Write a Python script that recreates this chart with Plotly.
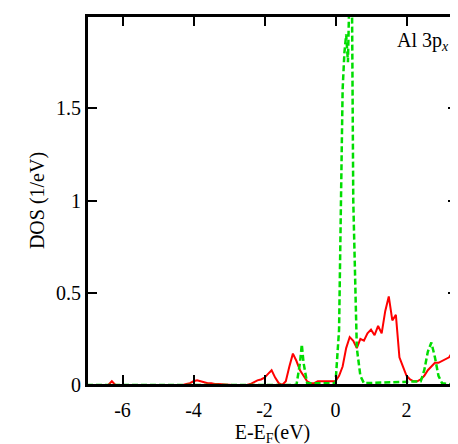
import numpy as np
import plotly.graph_objects as go

red_x = [round(v, 1) for v in np.arange(-7.0, 3.45, 0.1)]
red_y = ([0]*7 + [0.02, 0] + [0]*19 +
         [0.005,0.01,0.02,0.025,0.02,0.015,0.01,0.01,0.005,0.005,0.003] + [0]*7 +
         [0.005,0.015,0.025,0.03,0.04,0.06,0.08,0.04,0.01,0.0,0.02,0.1,0.17,0.13,0.08,0.05,0.02,0.01,0.01,
          0.02,0.02,0.02,0.02,0.02,0.02,0.05,0.1,0.2,0.26,0.24,0.2,0.25,0.24,0.28,0.3,0.27,0.32,0.28,0.4,0.48,
          0.35,0.38,0.15,0.1,0.05,0.03,0.02,0.02,0.03,0.05,0.08,0.1,0.12,0.12,0.13,0.14,0.15,0.18,0.2])
red_x = red_x[:len(red_y)]

green_x = [-7.0,-1.1,-1.0,-0.95,-0.9,-0.8,0.0,0.1,0.2,0.25,0.3,0.35,0.4,0.45,0.5,0.6,0.7,0.8,2.4,2.5,2.6,2.7,2.8,2.9,3.0,3.4]
green_y = [0,0,0.12,0.22,0.12,0.01,0.01,0.3,1.6,1.8,1.9,1.75,2.2,2.5,1.0,0.2,0.05,0.01,0.02,0.08,0.18,0.23,0.15,0.05,0.01,0]

fig = go.Figure()
fig.add_trace(go.Scatter(x=red_x, y=red_y, mode="lines", line=dict(color="#ff0000", width=2)))
fig.add_trace(go.Scatter(x=green_x, y=green_y, mode="lines", line=dict(color="#00dd00", width=2.5, dash="6px,3px")))
font = dict(family="Liberation Serif, DejaVu Serif", size=20, color="black")
ax = dict(showgrid=False, zeroline=False, showline=True, linecolor="black", linewidth=2, mirror="allticks",
          ticks="inside", ticklen=10, tickwidth=2, tickcolor="black", tickfont=font)
fig.update_xaxes(range=[-7.0, 3.45], tickvals=[-6,-4,-2,0,2], ticktext=["-6","-4","-2","0","2"],
                 ticklabelstandoff=6,
                 title=dict(text="E-E<sub>F</sub>(eV)", font=font, standoff=4), **ax)
fig.update_yaxes(range=[0, 2.0], tickvals=[0,0.5,1,1.5,2], ticktext=["0","0.5","1","1.5","2"],
                 title=dict(text="DOS (1/eV)", font=font, standoff=6), **ax)
fig.add_shape(type="rect", xref="paper", yref="paper", x0=0, y0=0, x1=1, y1=1,
              line=dict(color="black", width=2), layer="above")
fig.add_annotation(x=0.98, y=0.97, xref="paper", yref="paper", xanchor="right", yanchor="top",
                   text="Al 3p<sub><i>x</i></sub>", showarrow=False, font=font)
fig.update_layout(width=458, height=444, margin=dict(l=79, r=6, t=8, b=67), showlegend=False,
                  plot_bgcolor="white", paper_bgcolor="white")
fig.write_html("out.html")
